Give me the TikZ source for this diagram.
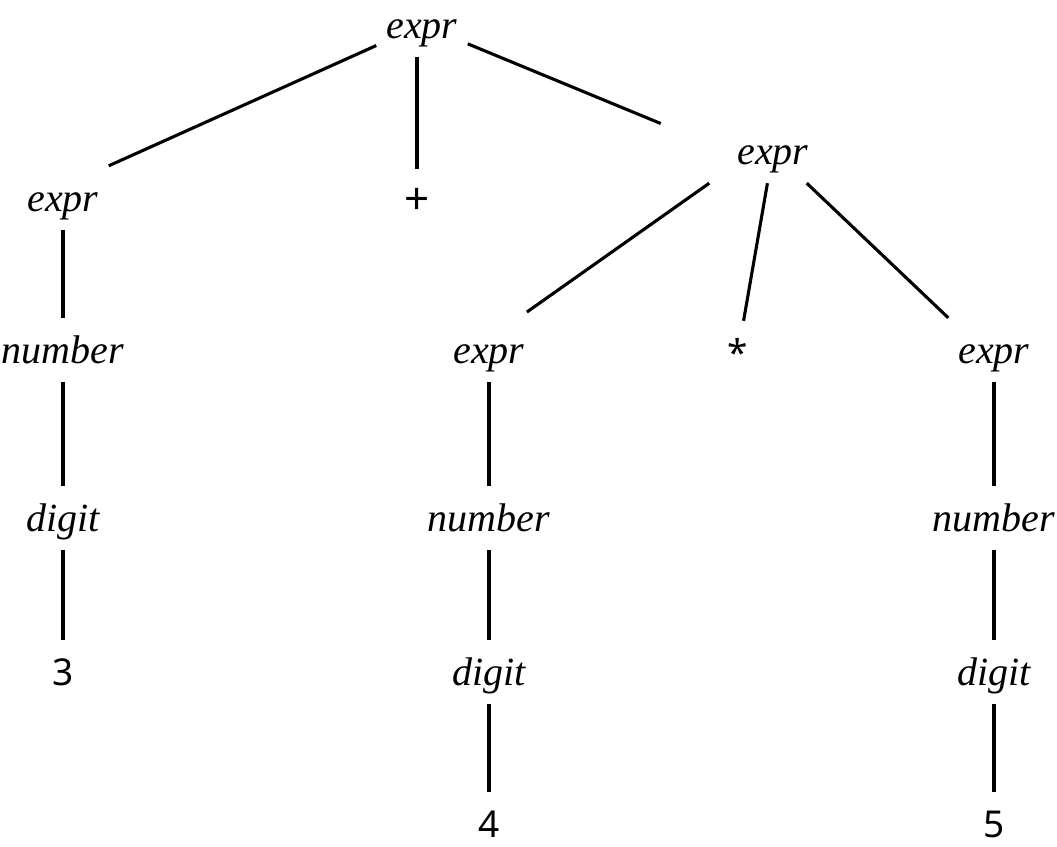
\documentclass[tikz,border=0pt]{standalone}
\usepackage{fontspec}
\setmainfont{Liberation Serif}
\newfontfamily\termfont{Noto Sans}

\begin{document}
\begin{tikzpicture}[
  x=1pt,
  y=-1pt,
  nonterm/.style={
    anchor=base,
    text height=35pt,
    text depth=9pt,
    inner sep=10pt,
    font=\fontsize{40}{48}\selectfont\itshape
  },
  term/.style={
    nonterm,
    font=\fontsize{37}{44}\selectfont\termfont
  },
  op/.style={
    nonterm,
    font=\fontsize{44}{52}\selectfont\termfont
  },
  branch/.style={
    draw,
    black,
    line width=3.1pt
  },
]
\useasboundingbox (0,0) rectangle (1057,846);
% row 1
\node[nonterm] (root) at (422,38) {expr};
% row 2
\node[nonterm] (lexpr) at (63,211) {expr};
\node[op] (plus) at (417,214) {+};
\node[nonterm] (rexpr) at (773,164) {expr};
% row 3
\node[nonterm] (lnum) at (63,363) {number};
\node[nonterm] (mexpr) at (489,363) {expr};
\node[term] (star) at (738,366) {*};
\node[nonterm] (rrexpr) at (994,363) {expr};
% row 4
\node[nonterm] (ldig) at (63,531) {digit};
\node[nonterm] (mnum) at (489,531) {number};
\node[nonterm] (rnum) at (994,531) {number};
% row 5
\node[term] (three) at (63,685) {3};
\node[nonterm] (mdig) at (489,685) {digit};
\node[nonterm] (rdig) at (994,685) {digit};
% row 6
\node[term] (four) at (489,837) {4};
\node[term] (five) at (994,837) {5};

\path[branch] (root.south -| plus) -- (plus);
\path[branch] (root) -- (lexpr.north east);
\path[branch, shorten >=72pt] (root) -- (rexpr.west);
\path[branch, shorten >=10pt] ([xshift=-18pt]rexpr.south west) -- ([xshift=-16pt]mexpr.north east);
\path[branch] (rexpr) -- (star);
\path[branch] (rexpr) -- (rrexpr.north west);
\path[branch] (lexpr) -- (lnum);
\path[branch] (lnum) -- (ldig);
\path[branch] (ldig) -- (three);
\path[branch] (mexpr) -- (mnum);
\path[branch] (mnum) -- (mdig);
\path[branch] (mdig) -- (four);
\path[branch] (rrexpr) -- (rnum);
\path[branch] (rnum) -- (rdig);
\path[branch] (rdig) -- (five);
\end{tikzpicture}
\end{document}
